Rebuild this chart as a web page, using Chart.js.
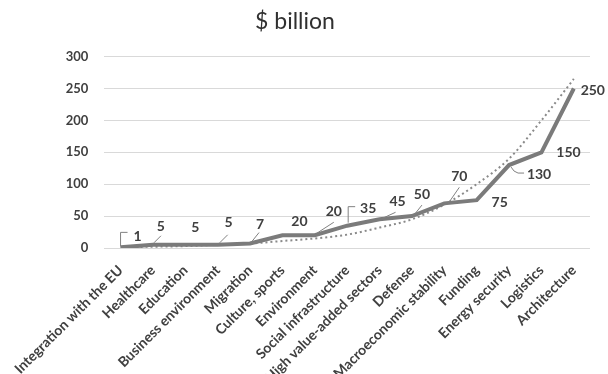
<!DOCTYPE html>
<html>
<head>
<meta charset="utf-8">
<script src="https://cdn.jsdelivr.net/npm/chart.js@4/dist/chart.umd.min.js"></script>
<style>
  html, body { margin: 0; padding: 0; background: #fff; overflow: hidden; }
  #wrap { width: 608px; height: 400px; }
</style>
</head>
<body>
<div id="wrap"><canvas id="c" width="608" height="400"></canvas></div>
<script>
// Spending areas and amounts, $ billion
const categories = [
  'Integration with the EU', 'Healthcare', 'Education', 'Business environment',
  'Migration', 'Culture, sports', 'Environment', 'Social infrastructure',
  'High value-added sectors', 'Defense', 'Macroeconomic stability', 'Funding',
  'Energy security', 'Logistics', 'Architecture'
];
const amounts = [1, 5, 5, 5, 7, 20, 20, 35, 45, 50, 70, 75, 130, 150, 250];
// Trend curve through the amounts
const trend = [1, 2, 3, 5, 7, 11, 15, 21, 32, 45, 68, 100, 140, 200, 265];
const yTicks = [0, 50, 100, 150, 200, 250, 300];

// Label placement (offset from point) and leader-line paths, in pixels
const labelOffsets = [
  [17, -11], [8, -18], [10, -17], [11, -22], [10, -19], [17, -14], [19, -24],
  [21, -17], [18, -18], [10, -22], [15, -27], [23, 2], [30, 9], [27, 0], [19, 2]
];
const leaderPaths = [
  [[0, -1], [0, -15], [7, -15]],
  [[1, -2], [8, -9]],
  null,
  [[2, -2], [10, -10]],
  [[1, -1], [9, -11]],
  null,
  [[2, -2], [19, -13]],
  [[1, -3], [1, -19], [8, -19]],
  [[3, -1], [16, -7]],
  [[2, -1], [10, -11]],
  [[4, 0], [15, -16]],
  null,
  [[2, 2], [5, 6], [9, 8], [15, 8]],
  null,
  null
];

const FONT = 'Lato, "Open Sans", "DejaVu Sans", sans-serif';
const TEXT = '#404040';

const valueLabels = {
  id: 'valueLabels',
  afterDatasetsDraw(chart) {
    const ctx = chart.ctx;
    const meta = chart.getDatasetMeta(0);
    ctx.save();
    ctx.strokeStyle = '#808080';
    ctx.lineWidth = 1;
    meta.data.forEach((pt, i) => {
      const path = leaderPaths[i];
      if (!path) return;
      ctx.beginPath();
      path.forEach(([dx, dy], k) => {
        const x = pt.x + dx, y = pt.y + dy;
        if (k === 0) ctx.moveTo(x, y); else ctx.lineTo(x, y);
      });
      ctx.stroke();
    });
    ctx.fillStyle = TEXT;
    ctx.font = 'bold 14px ' + FONT;
    ctx.textAlign = 'center';
    ctx.textBaseline = 'middle';
    meta.data.forEach((pt, i) => {
      const [dx, dy] = labelOffsets[i];
      ctx.fillText(String(amounts[i]), pt.x + dx, pt.y + dy);
    });
    ctx.restore();
  }
};

new Chart(document.getElementById('c'), {
  type: 'line',
  data: {
    labels: categories,
    datasets: [
      {
        data: amounts,
        borderColor: '#7b7b7b',
        borderWidth: 4,
        pointRadius: 0,
        tension: 0,
        order: 1
      },
      {
        data: trend,
        borderColor: '#8a8a8a',
        borderWidth: 2,
        borderDash: [2, 3],
        pointRadius: 0,
        cubicInterpolationMode: 'monotone',
        order: 2
      }
    ]
  },
  options: {
    responsive: false,
    animation: false,
    devicePixelRatio: 1,
    layout: { padding: { left: 0, right: 18, top: 0, bottom: 0 } },
    plugins: {
      legend: { display: false },
      tooltip: { enabled: false },
      title: {
        display: true,
        text: '$ billion',
        color: '#303030',
        font: { family: FONT, size: 23, weight: 'normal' },
        padding: { top: 8, bottom: 21 }
      }
    },
    scales: {
      x: {
        offset: true,
        grid: { display: false, drawTicks: false },
        border: { display: false },
        ticks: {
          autoSkip: false,
          minRotation: 45,
          maxRotation: 45,
          padding: 14,
          color: TEXT,
          font: { family: FONT, size: 14, weight: 'bold' }
        },
        afterFit(scale) { scale.height = 152; }
      },
      y: {
        min: 0,
        max: 300,
        afterBuildTicks(scale) { scale.ticks = yTicks.map(v => ({ value: v })); },
        grid: { color: '#d9d9d9', lineWidth: 1, drawTicks: false },
        border: { display: false },
        ticks: {
          padding: 16,
          color: TEXT,
          font: { family: FONT, size: 13, weight: 'bold' }
        },
        afterFit(scale) { scale.width = 98; }
      }
    }
  },
  plugins: [valueLabels]
});
</script>
</body>
</html>
